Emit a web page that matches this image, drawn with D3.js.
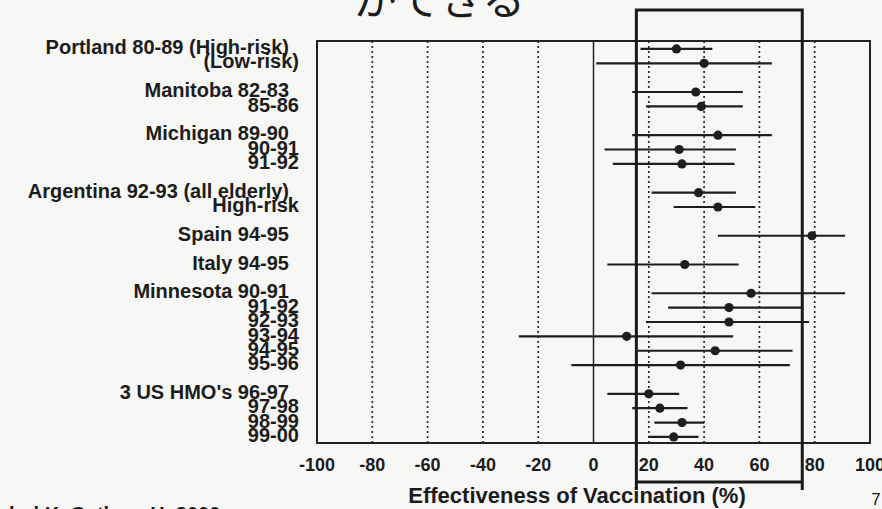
<!DOCTYPE html>
<html>
<head>
<meta charset="utf-8">
<script src="https://cdn.jsdelivr.net/npm/d3@7"></script>
<style>
  html, body { margin: 0; padding: 0; background: #f7f7f5; overflow: hidden; }
  svg { display: block; }
  text { font-family: "Liberation Sans", Arial, sans-serif; fill: #1c1c1c; }
</style>
</head>
<body>
<div id="chart"></div>
<script>
// Etudes (ligne = position dans la liste, les vides servent d'espace)
const rowLabels = [
  "Portland 80-89 (High-risk)", "(Low-risk)",
  "Manitoba 82-83", "85-86",
  "Michigan 89-90", "90-91", "91-92",
  "Argentina 92-93 (all elderly)", "High-risk",
  "Spain 94-95",
  "Italy 94-95",
  "Minnesota 90-91", "91-92", "92-93", "93-94", "94-95", "95-96",
  "3 US HMO's 96-97", "97-98", "98-99", "99-00"
];
const rowSlots = [0, 1, 3, 4, 6, 7, 8, 10, 11, 13, 15, 17, 18, 19, 20, 21, 22, 24, 25, 26, 27];
const isHeading = [true, false, true, false, true, false, false, true, false, true, true, true, false, false, false, false, false, true, false, false, false];

// Efficacite (%) : estimation et intervalle
const estimates = [30, 40, 37, 39, 45, 31, 32, 38, 45, 79, 33, 57, 49, 49, 12, 44, 31.5, 20, 24, 32, 29];
const lowers    = [17, 1, 14, 19, 14, 4, 7, 21, 29, 45, 5, 21, 27, 19, -27, 16, -8, 5, 14, 22, 20];
const uppers    = [43, 64.5, 54, 54, 64.5, 51.5, 51, 51.5, 58.5, 91, 52.5, 91, 75.5, 78, 50.5, 72, 71, 31, 34, 40, 38];

const xTicks = [-100, -80, -60, -40, -20, 0, 20, 40, 60, 80, 100];
const highlight = [15.5, 75.5]; // cadre epais

const width = 882, height = 509;
const plot = { left: 317, right: 870, top: 41, bottom: 443 };

const svg = d3.select("#chart").append("svg")
  .attr("width", width).attr("height", height);

const x = d3.scaleLinear().domain([-100, 100]).range([plot.left, plot.right]);
const y = d3.scaleLinear().domain([-0.55, 27.42]).range([plot.top, plot.bottom]);

// Titre japonais coupe en haut
svg.append("text")
  .attr("x", 354).attr("y", 15)
  .style("font-family", "'Noto Sans CJK JP', sans-serif")
  .style("font-size", "43px")
  .text("ができる");

// Grille pointillee
svg.append("g").selectAll("line")
  .data(xTicks.filter(t => t !== 0 && t !== -100 && t !== 100))
  .enter().append("line")
  .attr("x1", d => x(d)).attr("x2", d => x(d))
  .attr("y1", plot.top).attr("y2", plot.bottom)
  .style("stroke", "#2a2a2a").style("stroke-width", 1.7)
  .style("stroke-dasharray", "2,3");

// Ligne zero
svg.append("line")
  .attr("x1", x(0)).attr("x2", x(0))
  .attr("y1", plot.top).attr("y2", plot.bottom)
  .style("stroke", "#222").style("stroke-width", 1.5);

// Cadre du graphe
svg.append("rect")
  .attr("x", plot.left).attr("y", plot.top)
  .attr("width", plot.right - plot.left).attr("height", plot.bottom - plot.top)
  .style("fill", "none").style("stroke", "#222").style("stroke-width", 2);

// Intervalles
const rows = rowLabels.map((label, i) => ({
  label, slot: rowSlots[i], heading: isHeading[i],
  est: estimates[i], lo: lowers[i], hi: uppers[i]
}));

svg.append("g").selectAll("line")
  .data(rows).enter().append("line")
  .attr("x1", d => x(d.lo)).attr("x2", d => x(d.hi))
  .attr("y1", d => y(d.slot)).attr("y2", d => y(d.slot))
  .style("stroke", "#1e1e1e").style("stroke-width", 2.2);

svg.append("g").selectAll("circle")
  .data(rows).enter().append("circle")
  .attr("cx", d => x(d.est)).attr("cy", d => y(d.slot))
  .attr("r", 4.6)
  .style("fill", "#1e1e1e");

// Libelles des etudes
svg.append("g").selectAll("text")
  .data(rows).enter().append("text")
  .attr("x", d => d.heading ? 289 : 299)
  .attr("y", d => y(d.slot))
  .attr("dy", "0.26em")
  .attr("text-anchor", "end")
  .style("font-size", "20px").style("font-weight", "bold")
  .text(d => d.label);

// Graduations
svg.append("g").selectAll("text")
  .data(xTicks).enter().append("text")
  .attr("x", d => x(d)).attr("y", 471)
  .attr("text-anchor", "middle")
  .style("font-size", "18px").style("font-weight", "bold")
  .text(d => d);

// Titre de l'axe
svg.append("text")
  .attr("x", 577).attr("y", 503)
  .attr("text-anchor", "middle")
  .style("font-size", "22px").style("font-weight", "bold")
  .text("Effectiveness of Vaccination (%)");

// Cadre epais de mise en evidence
const hx0 = x(highlight[0]), hx1 = x(highlight[1]);
svg.append("path")
  .attr("d", `M${hx0},490 V10 H${hx1} V490 M${hx0},482 H${hx1}`)
  .style("fill", "none").style("stroke", "#1a1a1a").style("stroke-width", 3);

// Numero de page et reference
svg.append("text")
  .attr("x", 876).attr("y", 505)
  .attr("text-anchor", "middle")
  .style("font-size", "17px")
  .text("7");

svg.append("text")
  .attr("x", -22).attr("y", 521)
  .style("font-size", "20px").style("font-weight", "bold")
  .text("Nichol K, Gatham H, 2000");
</script>
</body>
</html>
